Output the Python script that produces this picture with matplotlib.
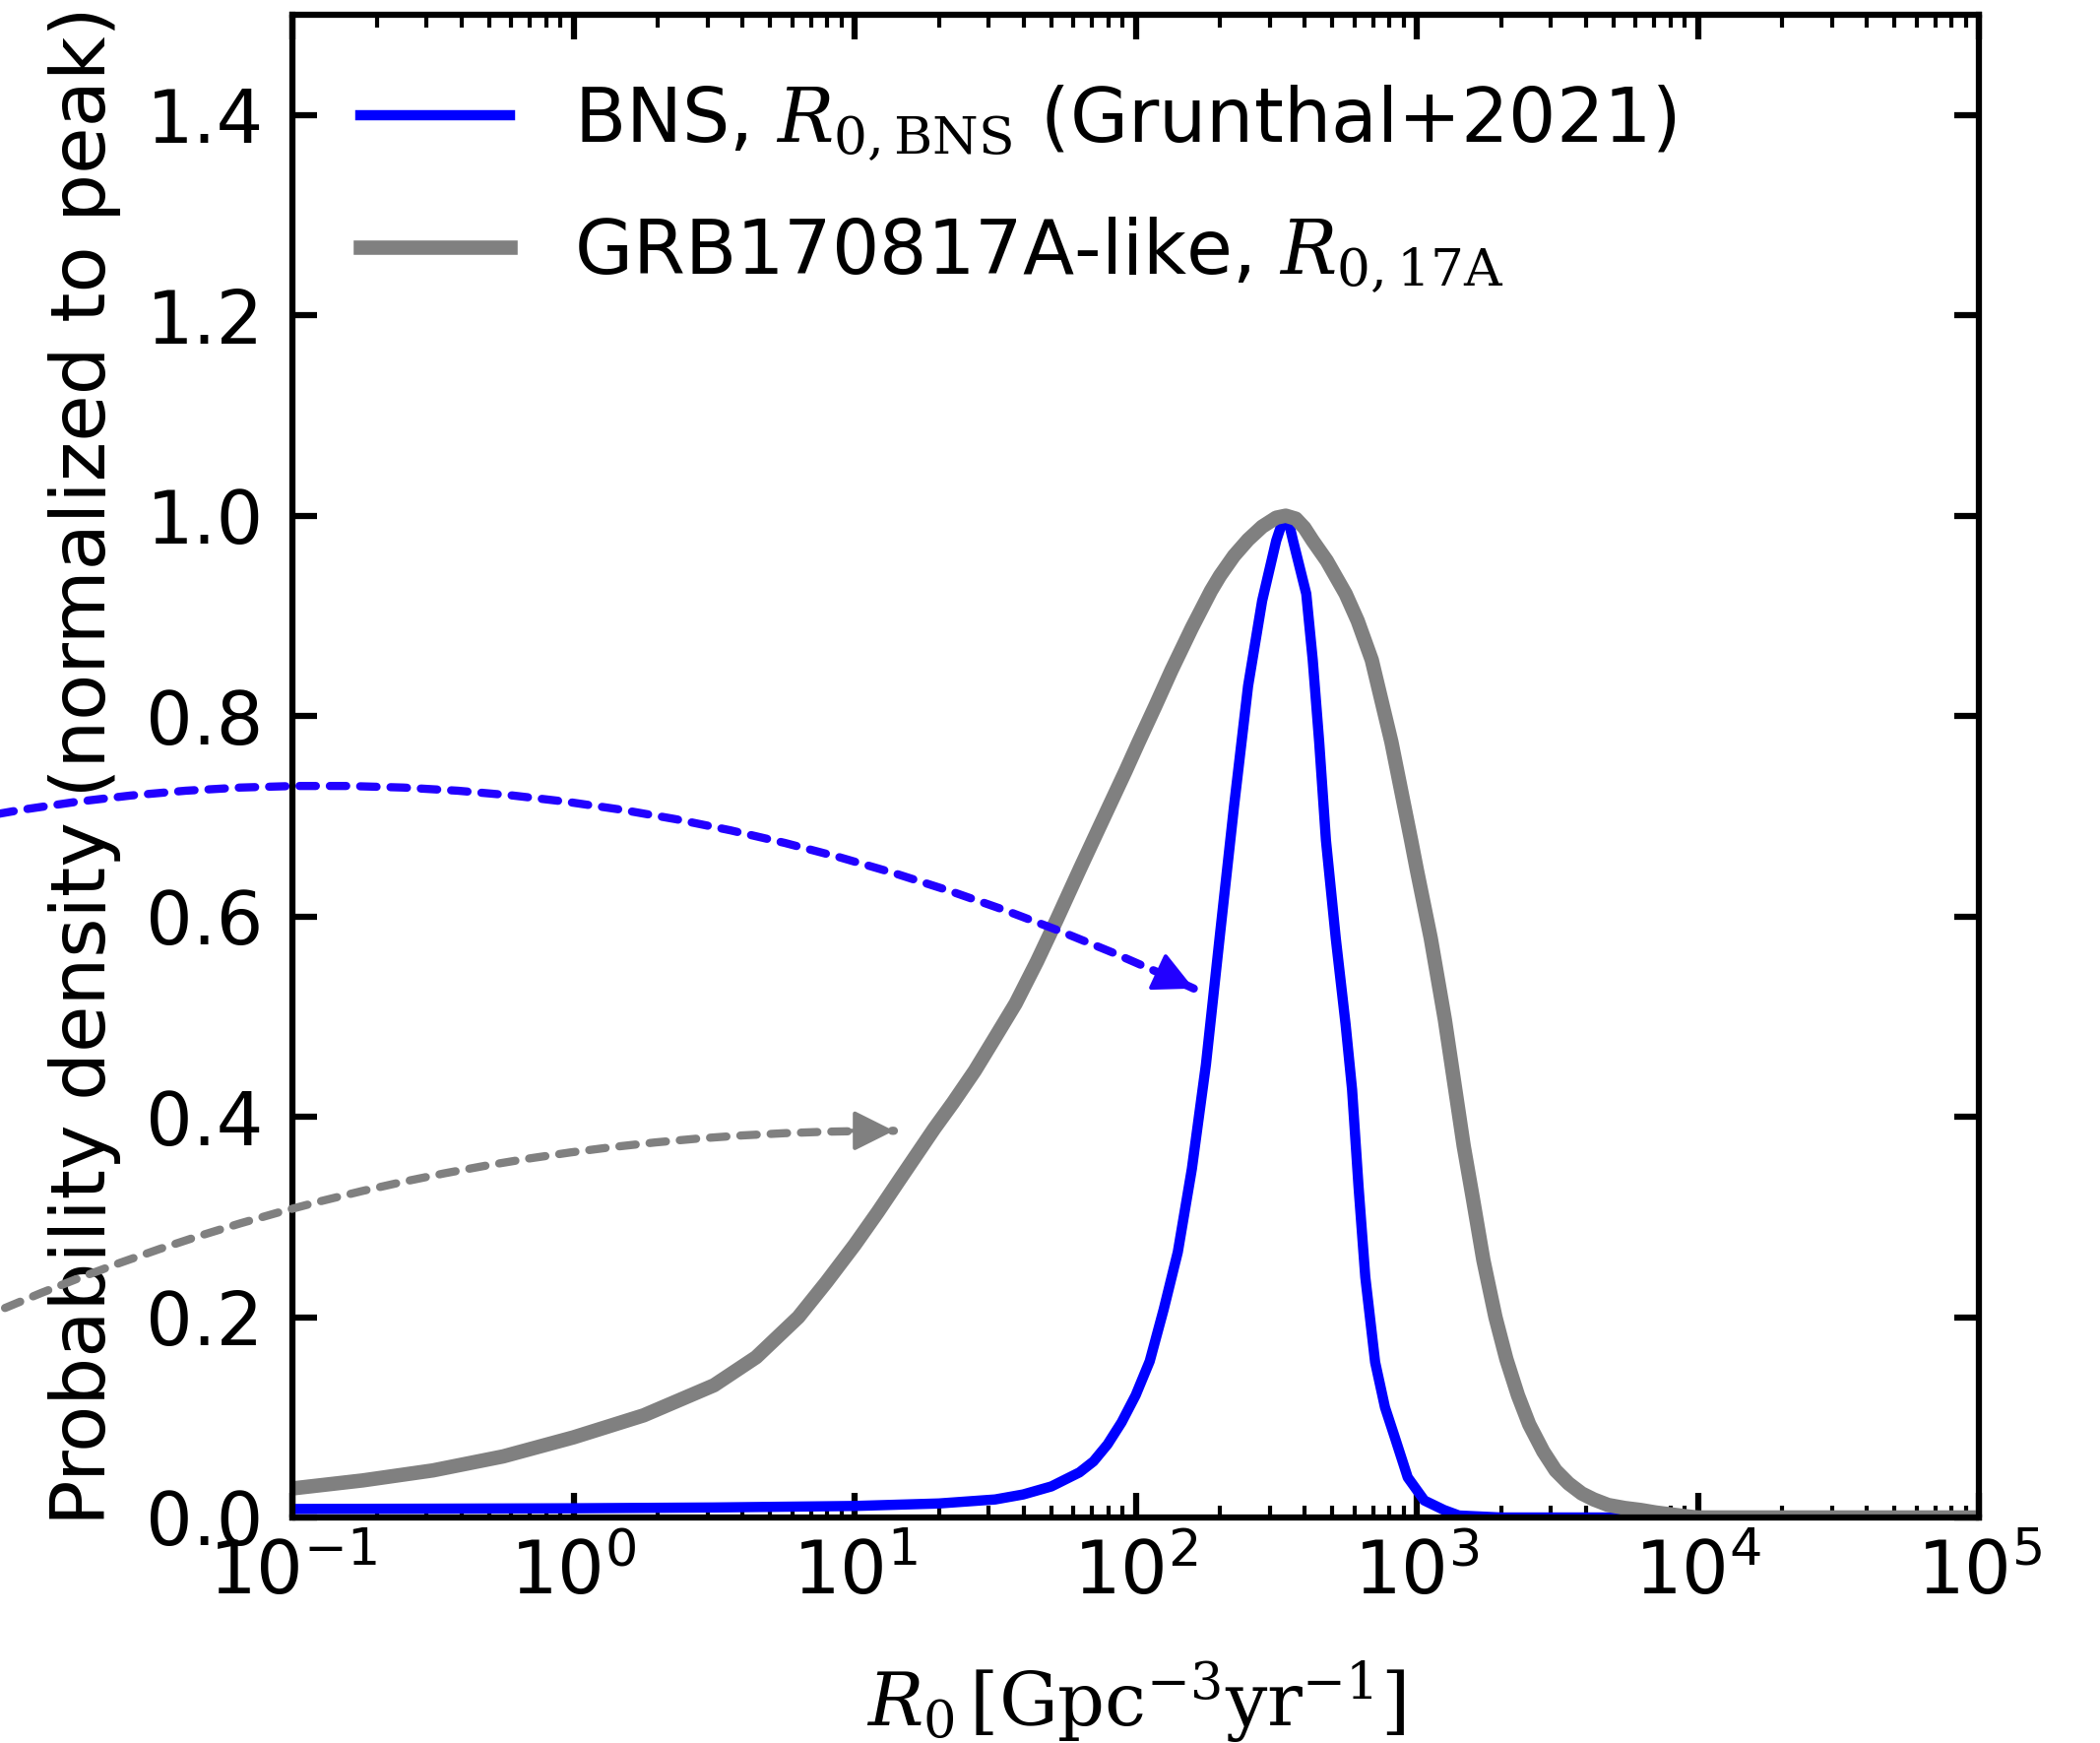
import numpy as np
import matplotlib
matplotlib.use('Agg')
import matplotlib.pyplot as plt
from matplotlib.ticker import MultipleLocator, LogLocator, NullLocator

# ---------------- data ----------------
# log10(R0 / Gpc^-3 yr^-1) and peak-normalised probability density
bns_log_r = [-1.0, -0.5, 0.0, 0.5, 1.0, 1.3, 1.5, 1.6, 1.7, 1.8, 1.85, 1.9,
             1.95, 2.0, 2.05, 2.1, 2.15, 2.2, 2.25, 2.3, 2.35, 2.4, 2.45, 2.5,
             2.52, 2.534, 2.545, 2.56, 2.607, 2.63, 2.653, 2.677, 2.712, 2.747,
             2.77, 2.793, 2.817, 2.852, 2.887, 2.922, 2.968, 3.027, 3.097, 3.15,
             3.3, 4.0, 5.0]
bns_pdf = [0.0085, 0.0088, 0.0092, 0.010, 0.0115, 0.014, 0.018, 0.023, 0.031,
           0.045, 0.056, 0.073, 0.095, 0.122, 0.156, 0.208, 0.265, 0.348, 0.452,
           0.582, 0.71, 0.83, 0.915, 0.975, 0.992, 1.0, 0.993, 0.975, 0.922,
           0.856, 0.774, 0.676, 0.578, 0.492, 0.427, 0.33, 0.24, 0.155, 0.11,
           0.08, 0.040, 0.017, 0.0075, 0.002, 0.0, 0.0, 0.0]

grb_log_r = [-1.0, -0.75, -0.5, -0.25, 0.0, 0.25, 0.5, 0.65, 0.8, 0.9, 1.0,
             1.083, 1.167, 1.225, 1.283, 1.35, 1.428, 1.491, 1.573, 1.649,
             1.718, 1.801, 1.864, 1.964, 2.009, 2.07, 2.128, 2.2, 2.268, 2.3,
             2.35, 2.4, 2.45, 2.5, 2.534, 2.57, 2.6, 2.63, 2.68, 2.747, 2.79,
             2.84, 2.91, 2.98, 3.0, 3.05, 3.10, 3.167, 3.2, 3.237, 3.28, 3.319,
             3.36, 3.40, 3.45, 3.494, 3.54, 3.587, 3.63, 3.681, 3.74, 3.797,
             3.85, 3.95, 4.0, 5.0]
grb_pdf = [0.029, 0.037, 0.047, 0.061, 0.080, 0.102, 0.132, 0.160, 0.200, 0.235,
           0.272, 0.305, 0.340, 0.364, 0.388, 0.414, 0.446, 0.475, 0.513, 0.555,
           0.596, 0.647, 0.685, 0.745, 0.773, 0.81, 0.846, 0.888, 0.925, 0.94,
           0.96, 0.976, 0.989, 0.998, 1.0, 0.997, 0.988, 0.975, 0.955, 0.922,
           0.895, 0.856, 0.774, 0.676, 0.647, 0.578, 0.497, 0.371, 0.318,
           0.257, 0.20, 0.158, 0.122, 0.093, 0.066, 0.047, 0.034, 0.024, 0.018,
           0.0125, 0.0095, 0.0075, 0.005, 0.0015, 0.0, 0.0]

bns_label = r'BNS, $R_{0,\rm BNS}$ (Grunthal+2021)'
grb_label = r'GRB170817A-like, $R_{0,\rm 17A}$'
xlabel = r'$R_0\,[{\rm Gpc}^{-3}{\rm yr}^{-1}]$'
ylabel = 'Probability density (normalized to peak)'

# annotation arrow tips (data coords) and tails (figure fraction, off-canvas)
blue_arrow_tip = (161.0, 0.528)
blue_arrow_tail = (-0.2621, 0.4328)
blue_arrow_rad = -0.2325
grey_arrow_tip = (13.8, 0.386)
grey_arrow_tail = (-0.1875, 0.1243)
grey_arrow_rad = -0.1537

# ---------------- figure ----------------
plt.rcParams['mathtext.fontset'] = 'dejavuserif'
plt.rcParams['font.family'] = 'DejaVu Sans'

W, H, DPI = 2133, 1770, 300
fig = plt.figure(figsize=(W / DPI, H / DPI), dpi=DPI)
ax = fig.add_axes([297 / W, 1 - 1541 / H, (2010 - 297) / W, (1541 - 15) / H])

bns_r = 10 ** np.array(bns_log_r)
grb_r = 10 ** np.array(grb_log_r)

ax.plot(bns_r, bns_pdf, color='blue', lw=2.5, label=bns_label)
ax.plot(grb_r, grb_pdf, color='gray', lw=3.5, label=grb_label)

ax.set_xscale('log')
ax.set_xlim(1e-1, 1e5)
ax.set_ylim(0, 1.5)
ax.yaxis.set_major_locator(MultipleLocator(0.2))
ax.yaxis.set_minor_locator(NullLocator())
ax.xaxis.set_major_locator(LogLocator(base=10, numticks=20))
ax.xaxis.set_minor_locator(LogLocator(base=10, subs=np.arange(2, 10), numticks=20))

for sp in ax.spines.values():
    sp.set_linewidth(1.5)
ax.tick_params(which='both', direction='in', top=True, right=True)
ax.tick_params(which='major', length=6, width=1.5, labelsize=18)
ax.tick_params(axis='y', which='major', pad=7)
ax.tick_params(axis='x', which='major', pad=5)
ax.tick_params(which='minor', length=3, width=1.0)

ax.set_xlabel(xlabel, fontsize=18, labelpad=12)
ax.set_ylabel(ylabel, fontsize=18.5, labelpad=6)

ax.legend(loc='upper left', frameon=False, fontsize=18.3,
          labelspacing=0.7, handletextpad=0.85)


def curved_dashed_arrow(tip, tail, rad, color):
    # dashed curved shaft
    ax.annotate('', xy=tip, xycoords='data',
                xytext=tail, textcoords='figure fraction',
                annotation_clip=False,
                arrowprops=dict(arrowstyle='-', color=color, lw=2.0,
                                linestyle=(0, (2.0, 1.7)),
                                shrinkA=0, shrinkB=0,
                                connectionstyle=f'arc3,rad={rad}'))
    # solid filled head aligned with the arc tangent at the tip
    tip_d = ax.transData.transform(tip)
    tail_d = np.array(tail) * [W, H]
    mid = (tip_d + tail_d) / 2
    d = tip_d - tail_d
    ctrl = mid + rad * np.array([d[1], -d[0]])
    u = (tip_d - ctrl) / np.linalg.norm(tip_d - ctrl)
    start = tip_d - 45 * u
    ax.annotate('', xy=tip, xycoords='data',
                xytext=tuple(start), textcoords='figure pixels',
                annotation_clip=False,
                arrowprops=dict(arrowstyle='-|>,head_length=0.4,head_width=0.2',
                                color=color, lw=1.0, mutation_scale=21,
                                shrinkA=0, shrinkB=0))


curved_dashed_arrow(blue_arrow_tip, blue_arrow_tail, blue_arrow_rad, '#2200ff')
curved_dashed_arrow(grey_arrow_tip, grey_arrow_tail, grey_arrow_rad, 'gray')

fig.savefig('out.png', dpi=DPI)
